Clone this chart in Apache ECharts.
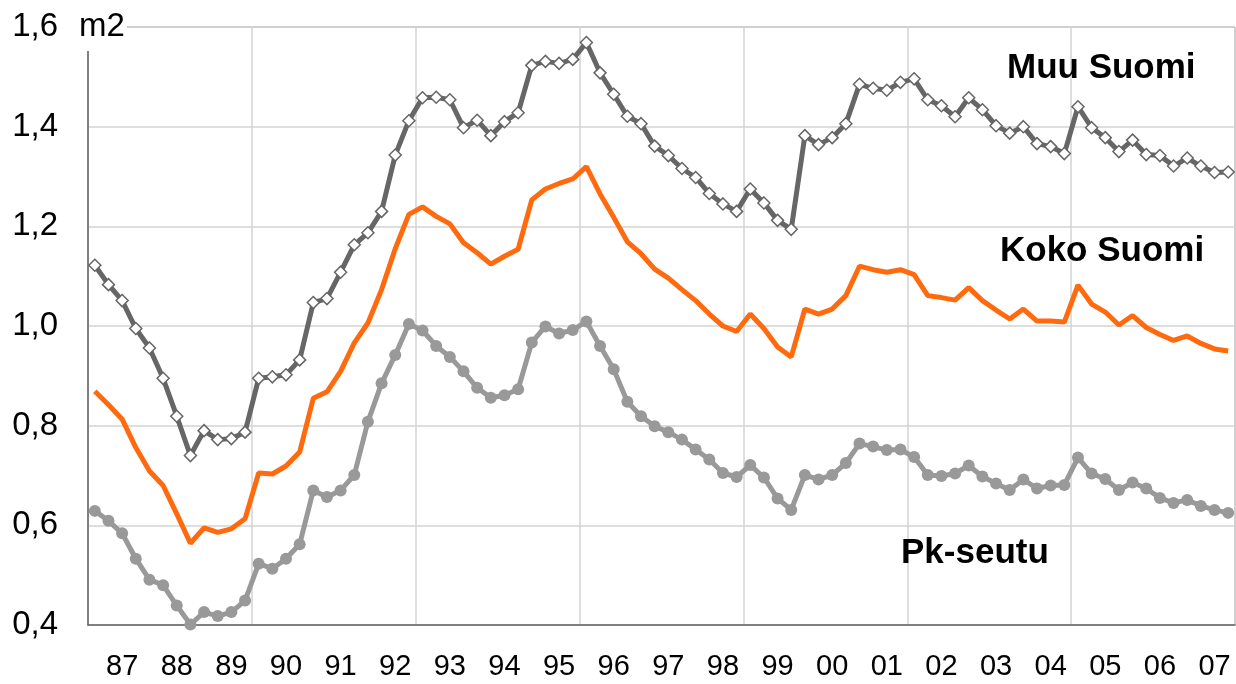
<!DOCTYPE html>
<html>
<head>
<meta charset="utf-8">
<title>Asuntojen hinnat m2</title>
<script src="https://cdn.jsdelivr.net/npm/echarts@6/dist/echarts.min.js"></script>
<style>
  html, body { margin: 0; padding: 0; background: #fff; }
  #chart { width: 1236px; height: 684px; }
</style>
</head>
<body>
<div id="chart"></div>
<script>
// quarterly data 1987Q1 - 2007Q4
var years = ['87','88','89','90','91','92','93','94','95','96','97','98','99','00','01','02','03','04','05','06','07'];
var quarters = [];
years.forEach(function(y){
  for (var q = 1; q <= 4; q++) quarters.push(y + 'Q' + q);
});

var muuSuomi = [
  1.122, 1.083, 1.051, 0.995, 0.956, 0.895, 0.819, 0.740, 0.790, 0.772, 0.774, 0.787,
  0.895, 0.898, 0.902, 0.932, 1.047, 1.055, 1.108, 1.163, 1.187, 1.230, 1.343, 1.412,
  1.458, 1.459, 1.454, 1.398, 1.413, 1.382, 1.410, 1.428, 1.523, 1.531, 1.527, 1.535,
  1.569, 1.508, 1.465, 1.421, 1.406, 1.361, 1.342, 1.316, 1.298, 1.266, 1.245, 1.230,
  1.275, 1.247, 1.212, 1.194, 1.382, 1.364, 1.378, 1.406, 1.485, 1.477, 1.473, 1.489,
  1.496, 1.454, 1.442, 1.420, 1.458, 1.434, 1.402, 1.387, 1.400, 1.366, 1.360, 1.346,
  1.440, 1.398, 1.378, 1.350, 1.373, 1.344, 1.342, 1.321, 1.337, 1.321, 1.308, 1.309
];

var kokoSuomi = [
  0.869, 0.842, 0.813, 0.756, 0.709, 0.680, 0.623, 0.564, 0.595, 0.586, 0.593, 0.613,
  0.705, 0.703, 0.719, 0.747, 0.855, 0.868, 0.909, 0.966, 1.006, 1.073, 1.155, 1.224,
  1.239, 1.220, 1.205, 1.167, 1.147, 1.124, 1.140, 1.154, 1.253, 1.275, 1.286, 1.295,
  1.320, 1.265, 1.218, 1.169, 1.145, 1.114, 1.096, 1.073, 1.051, 1.024, 1.000, 0.989,
  1.024, 0.995, 0.958, 0.938, 1.034, 1.024, 1.034, 1.061, 1.120, 1.113, 1.108, 1.113,
  1.103, 1.061, 1.057, 1.052, 1.077, 1.051, 1.032, 1.014, 1.034, 1.010, 1.010, 1.008,
  1.082, 1.044, 1.028, 1.002, 1.021, 0.997, 0.983, 0.971, 0.980, 0.965, 0.954, 0.950
];

var pkSeutu = [
  0.629, 0.609, 0.584, 0.533, 0.491, 0.480, 0.439, 0.401, 0.426, 0.418, 0.426, 0.449,
  0.523, 0.513, 0.533, 0.562, 0.670, 0.657, 0.670, 0.701, 0.808, 0.885, 0.942, 1.004,
  0.991, 0.960, 0.938, 0.909, 0.876, 0.856, 0.861, 0.873, 0.967, 0.999, 0.985, 0.992,
  1.009, 0.960, 0.913, 0.848, 0.819, 0.799, 0.787, 0.772, 0.752, 0.732, 0.705, 0.697,
  0.721, 0.696, 0.654, 0.631, 0.701, 0.692, 0.701, 0.725, 0.764, 0.758, 0.751, 0.752,
  0.737, 0.701, 0.699, 0.704, 0.720, 0.698, 0.684, 0.671, 0.692, 0.674, 0.680, 0.681,
  0.736, 0.704, 0.693, 0.671, 0.686, 0.674, 0.655, 0.645, 0.651, 0.639, 0.631, 0.625
];

var FONT = "'Liberation Sans', Arial, sans-serif";

var chart = echarts.init(document.getElementById('chart'));
var option = {
  animation: false,
  backgroundColor: '#fff',
  grid: {
    left: 88, right: 1, top: 27, bottom: 59,
    show: true, borderColor: '#8c8c8c', borderWidth: 1
  },
  xAxis: {
    type: 'category',
    data: quarters,
    boundaryGap: true,
    axisLine: { lineStyle: { color: '#666', width: 1.5 } },
    axisTick: { show: false },
    axisLabel: {
      interval: function(i){ return i % 4 === 2; },
      formatter: function(v, i){ return years[Math.floor(i / 4)]; },
      color: '#000', fontSize: 29, fontFamily: FONT, margin: 27
    },
    splitLine: {
      show: true,
      interval: function(i){ return i % 12 === 0; },
      lineStyle: { color: '#d3d3d3', width: 1.5 }
    }
  },
  yAxis: {
    type: 'value',
    min: 0.4, max: 1.6, interval: 0.2,
    axisLine: { show: true, lineStyle: { color: '#666', width: 1.5 } },
    axisTick: { show: false },
    axisLabel: {
      formatter: function(v){ return v.toFixed(1).replace('.', ','); },
      color: '#000', fontSize: 33, fontFamily: FONT, margin: 30
    },
    splitLine: { lineStyle: { color: '#d3d3d3', width: 1.5 } }
  },
  graphic: [
    { type: 'text', left: 79, top: 10, z: 100,
      style: { text: 'm2', font: '33px ' + FONT, fill: '#000', backgroundColor: '#fff', padding: [0, 2, 8, 0] } },
    { type: 'text', left: 1007, top: 51, z: 100,
      style: { text: 'Muu Suomi', font: 'bold 35px ' + FONT, fill: '#000' } },
    { type: 'text', left: 1000, top: 234, z: 100,
      style: { text: 'Koko Suomi', font: 'bold 35px ' + FONT, fill: '#000' } },
    { type: 'text', left: 901, top: 536, z: 100,
      style: { text: 'Pk-seutu', font: 'bold 35px ' + FONT, fill: '#000' } }
  ],
  series: [
    {
      name: 'Pk-seutu', type: 'line', data: pkSeutu,
      symbol: 'circle', symbolSize: 12, showAllSymbol: true,
      itemStyle: { color: '#999' },
      lineStyle: { color: '#999', width: 5 }
    },
    {
      name: 'Koko Suomi', type: 'line', data: kokoSuomi,
      symbol: 'none', showSymbol: false,
      lineStyle: { color: '#ff6a0e', width: 5 }
    },
    {
      name: 'Muu Suomi', type: 'line', data: muuSuomi,
      symbol: 'diamond', symbolSize: 12, showAllSymbol: true,
      itemStyle: { color: '#fff', borderColor: '#666', borderWidth: 1.5 },
      lineStyle: { color: '#666', width: 5 }
    }
  ]
};
chart.setOption(option);
</script>
</body>
</html>
